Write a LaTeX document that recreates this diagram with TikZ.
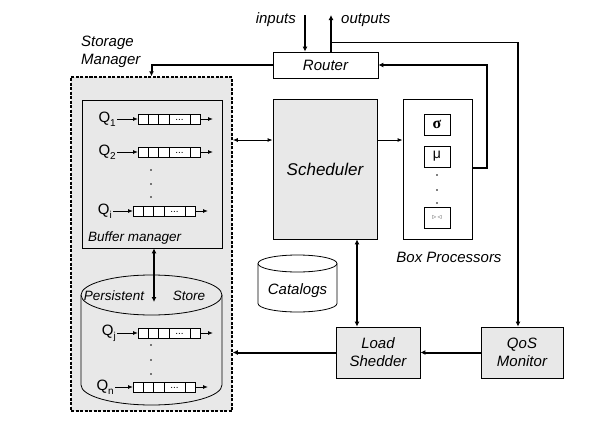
\documentclass[tikz,border=0pt]{standalone}
\usepackage{fontspec}
\setmainfont{Liberation Sans}
\newfontfamily\symfont{Liberation Serif}
\newfontfamily\dvfont{DejaVu Sans}
\usetikzlibrary{arrows.meta}
\newcommand\myq[5]{% #1 name, #2 label sub, #3 arrow start x, #4 queue left x, #5 y
  \node[font=\fontsize{15}{17}\selectfont\upshape, anchor=east] (#1l) at (#3-1,#5) {Q\raisebox{-4pt}{\fontsize{10}{10}\selectfont #2}};
  \draw[tarrow] (#3,#5) -- (#4,#5);
  \draw[fill=white, line width=0.7pt] (#4,#5-5) rectangle (#4+62,#5+5);
  \foreach \d in {10,20,31,52} \draw[line width=0.7pt] (#4+\d,#5-5) -- (#4+\d,#5+5);
  \node[font=\fontsize{10}{10}\selectfont\upshape] (#1d) at (#4+41.5,#5+0.5) {...};
  \draw[tarrow] (#4+62,#5) -- (#4+75,#5);
}
\newcommand\vdotsat[4]{% x y1 y2 y3
  \fill (#1,#2) circle[radius=0.8pt] (#1,#3) circle[radius=0.8pt] (#1,#4) circle[radius=0.8pt];
}
\begin{document}
\begin{tikzpicture}[x=1pt,y=-1pt,
  every node/.style={font=\fontsize{15}{18}\selectfont\itshape, inner sep=0pt},
  box/.style={draw, line width=0.8pt, align=center},
  gbox/.style={box, fill=black!9},
  tarrow/.style={line width=0.9pt, -{Latex[length=5pt,width=4pt]}},
  tdarrow/.style={line width=0.9pt, {Latex[length=5pt,width=4pt]}-{Latex[length=5pt,width=4pt]}},
  karrow/.style={line width=2pt, -{Latex[length=5pt,width=5pt]}},
  kdarrow/.style={line width=2pt, {Latex[length=5pt,width=5pt]}-{Latex[length=5pt,width=5pt]}},
  small/.style={font=\fontsize{13.5}{16}\selectfont\itshape}
]
\useasboundingbox[fill=white] (0,0) rectangle (614,447);

% Router and I/O
\node[box, minimum width=105pt, minimum height=26pt] (router) at (325.5,65) {Router};
\coordinate (in) at (305,15);
\coordinate (out) at (331,15);
\draw[karrow] (in) -- (router.north -| in);
\draw[karrow] (router.north -| out) -- (out);
\node[anchor=east] (inl) at (296,20) {inputs};
\node[anchor=west] (outl) at (341,20) {outputs};

% Storage manager
\node[anchor=north west, align=left] (sml) at (81,36) {Storage\\Manager};
\node[draw, line width=1.5pt, dash pattern=on 3pt off 1.5pt, fill=black!9,
      minimum width=161pt, minimum height=334pt] (sm) at (151.5,244) {};
\node[gbox, minimum width=140pt, minimum height=148pt] (bm) at (152,174) {};
\node[small, anchor=west] (bml) at (88,238) {Buffer manager};
\myq{q1}{1}{117}{138}{119}
\myq{q2}{2}{117}{138}{152}
\vdotsat{151}{170}{184}{197}
\myq{qi}{i}{113}{133}{211}

% Persistent store cylinder
\draw[fill=black!9, line width=0.8pt] (81,295) -- (81,385)
   arc[start angle=180, end angle=0, x radius=70.5, y radius=20] -- (222,295);
\draw[fill=black!9, line width=0.8pt] (151.5,295) ellipse[x radius=70.5, y radius=20];
\node[small] (pst) at (114,296) {Persistent};
\node[small] (sto) at (189,296) {Store};
\coordinate (ps) at (154,302);
\draw[kdarrow] (bm.south -| ps) -- (ps);
\myq{qj}{j}{117}{138}{333}
\vdotsat{151}{345}{360}{374}
\myq{qn}{n}{115}{133}{387}

% Scheduler and box processors
\node[gbox, minimum width=104pt, minimum height=140pt, font=\fontsize{17}{19}\selectfont\itshape] (sched) at (325,169) {Scheduler};
\node[box, minimum width=69pt, minimum height=140pt] (bp) at (437.5,169) {};
\node[box, minimum width=26pt, minimum height=21pt, font=\fontsize{16}{16}\selectfont\symfont\bfseries] (sig) at (437,124.5) {σ};
\node[box, minimum width=26pt, minimum height=21pt, font=\fontsize{14}{14}\selectfont\upshape] (mu) at (437,156.5) {μ};
\vdotsat{437}{175}{190}{203}
\node[box, minimum width=26pt, minimum height=21pt, font=\fontsize{8}{8}\selectfont\dvfont, text=black!55] (join) at (437,217.5) {▹\,◃};
\node (bpl) at (449,257) {Box Processors};

% Catalogs
\draw[fill=white, line width=0.8pt] (258,263.5) -- (258,303.5)
   arc[start angle=180, end angle=0, x radius=39.5, y radius=8.5] -- (337,263.5);
\draw[fill=white, line width=0.8pt] (297.5,263.5) ellipse[x radius=39.5, y radius=8.5];
\node (cat) at (297.5,291) {Catalogs};

% Load shedder, QoS
\node[gbox, minimum width=84pt, minimum height=51pt] (ls) at (378,352.5) {Load\\Shedder};
\node[gbox, minimum width=82pt, minimum height=51pt] (qos) at (522,352.5) {QoS\\Monitor};

% Connectors
\draw[karrow] (router.west) -| (sm.north);
\coordinate (fb) at (487,168);
\draw[karrow] (bp.east |- fb) -- (fb) |- (router.east);
\coordinate (oq) at (331,42);
\coordinate (qc) at (518,42);
\draw[line width=0.9pt] (oq) -- (qc);
\draw[karrow] (qc) -- (qc |- qos.north);
\draw[tdarrow] (sm.east |- 0,140) -- (sched.west |- 0,140);
\draw[tarrow] (sched.east |- 0,140) -- (bp.west |- 0,140);
\coordinate (sl) at (357,0);
\draw[kdarrow] (sched.south -| sl) -- (ls.north -| sl);
\draw[karrow] (qos.west) -- (ls.east);
\draw[karrow] (ls.west) -- (sm.east |- ls.west);
\end{tikzpicture}
\end{document}
